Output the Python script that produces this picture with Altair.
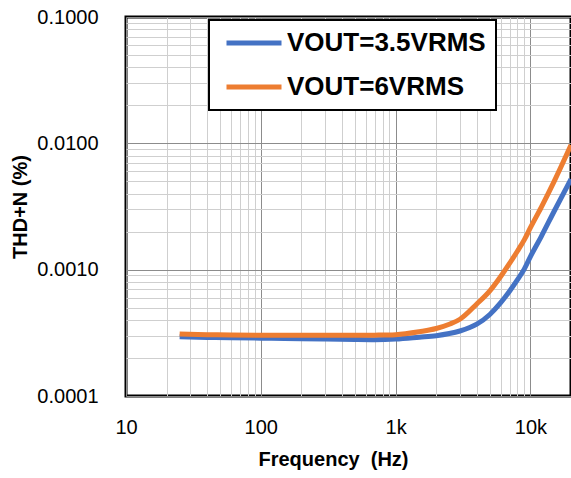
import altair as alt
import pandas as pd

freq = [25, 40, 60, 100, 150, 200, 300, 500, 700, 1000, 1500, 2000, 2500, 3000, 4000, 5000, 6000, 7000,
        8000, 9000, 10000, 12000, 15000, 20000]
blue = [0.000295, 0.000291, 0.000289, 0.000287, 0.000285, 0.000284, 0.000283, 0.00028, 0.000279, 0.000282,
        0.000292, 0.0003, 0.000312, 0.000327, 0.00037, 0.000442, 0.000545, 0.000675,
        0.00083, 0.00101, 0.00127, 0.00182, 0.0029, 0.0052]
orange = [0.00031, 0.000306, 0.000304, 0.000303, 0.000302, 0.000302, 0.000302, 0.000302, 0.000303, 0.000306,
          0.000323, 0.000342, 0.00037, 0.000405, 0.000535, 0.00068, 0.00088, 0.00112,
          0.0014, 0.00172, 0.00215, 0.0031, 0.005, 0.0097]
series_names = ["VOUT=3.5VRMS", "VOUT=6VRMS"]
series_colors = ["#4472C4", "#ED7D31"]

rows = []
for f, b, o in zip(freq, blue, orange):
    rows.append({"freq": f, "thd": b, "series": series_names[0]})
    rows.append({"freq": f, "thd": o, "series": series_names[1]})
df = pd.DataFrame(rows)

x_ticks = []
for d in [10, 100, 1000, 10000]:
    for k in range(1, 10):
        v = k * d
        if v <= 20000:
            x_ticks.append(v)
x_ticks.append(20000)

y_ticks = []
for d in [0.0001, 0.001, 0.01]:
    for k in range(1, 10):
        y_ticks.append(round(k * d, 6))
y_ticks.append(0.1)

x_major = "datum.value == 10 || datum.value == 100 || datum.value == 1000 || datum.value == 10000"
y_major = "datum.value == 0.1 || datum.value == 0.01 || datum.value == 0.001 || datum.value == 0.0001"

major_col = "#8c8c8c"
minor_col = "#cfcfcf"

chart = alt.Chart(df).mark_line(strokeWidth=5, interpolate="monotone").encode(
    x=alt.X("freq:Q",
            scale=alt.Scale(type="log", domain=[10, 20000], nice=False),
            axis=alt.Axis(values=x_ticks,
                          labelExpr="datum.value == 10 ? '10' : datum.value == 100 ? '100' : datum.value == 1000 ? '1k' : datum.value == 10000 ? '10k' : ''",
                          gridColor={"condition": {"test": x_major, "value": major_col}, "value": minor_col},
                          ticks=False, domain=False, labelFlush=False, labelOverlap=False,
                          labelPadding=21, labelFont="Liberation Sans", labelFontSize=20, labelColor="black",
                          title="Frequency\u00a0 (Hz)", titleFont="Liberation Sans", titleFontSize=20,
                          titleFontWeight="bold", titleColor="black", titlePadding=12, titleX=207)),
    y=alt.Y("thd:Q",
            scale=alt.Scale(type="log", domain=[0.0001, 0.1], nice=False),
            axis=alt.Axis(values=y_ticks,
                          labelExpr=y_major + " ? format(datum.value, '.4f') : ''",
                          gridColor={"condition": {"test": y_major, "value": major_col}, "value": minor_col},
                          ticks=False, domain=False, labelFlush=False, labelOverlap=False,
                          labelPadding=28, labelFont="Liberation Sans", labelFontSize=20, labelColor="black",
                          title="THD+N (%)", titleFont="Liberation Sans", titleFontSize=20,
                          titleFontWeight="bold", titleColor="black", titlePadding=6)),
    color=alt.Color("series:N",
                    scale=alt.Scale(domain=series_names, range=series_colors),
                    legend=alt.Legend(title=None, orient="none", legendX=83, legendY=3,
                                      direction="vertical", fillColor="white", strokeColor="black",
                                      padding=10, labelFont="Liberation Sans", labelFontWeight="bold",
                                      labelFontSize=26, labelColor="black", labelOffset=20,
                                      symbolType="M-2.75,0H2.75", symbolSize=400, symbolStrokeWidth=5,
                                      symbolOffset=22, rowPadding=18, labelLimit=400)),
).properties(
    width=445, height=379,
    padding={"left": 126, "top": 17, "right": 0, "bottom": 82},
    autosize="none",
).configure_view(
    stroke="black", strokeWidth=3
).configure_legend(
    strokeWidth=2
)

chart.save("out.html", embed_options={"renderer": "svg", "actions": False})
